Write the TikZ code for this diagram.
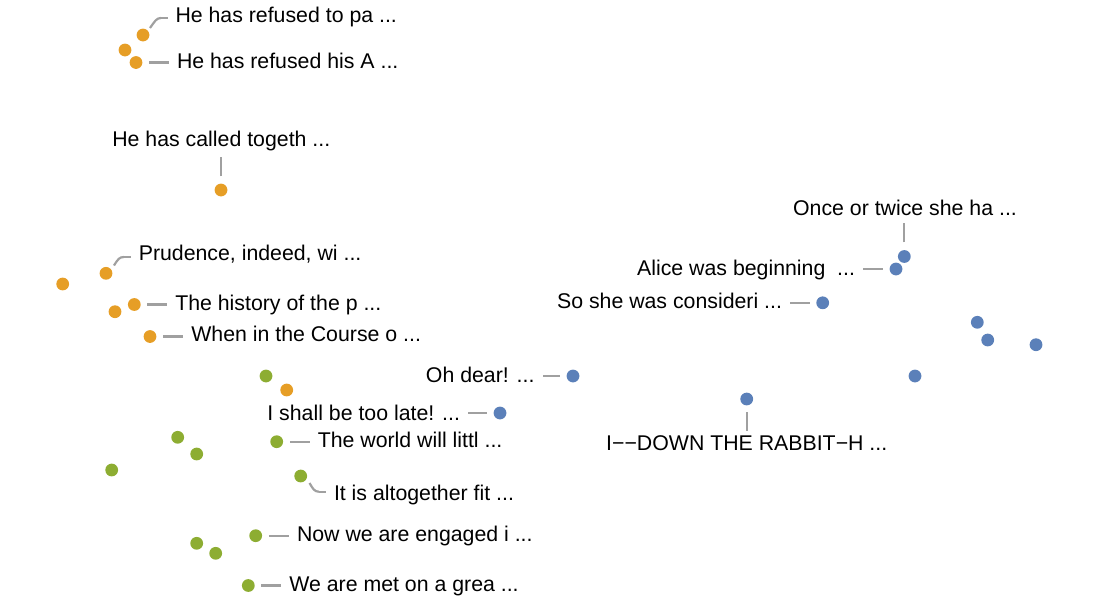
\documentclass[tikz,border=0pt]{standalone}
\usepackage{fontspec}
\setmainfont{Liberation Sans}
\definecolor{dorange}{HTML}{E69E26}
\definecolor{dgreen}{HTML}{8DAD32}
\definecolor{dblue}{HTML}{5B80B9}
\definecolor{conngray}{HTML}{A0A0A0}
\tikzset{
  dot/.style={circle, fill=#1, draw=none, inner sep=0pt, minimum size=12.8pt},
  lab/.style={inner sep=0pt, outer sep=0pt, font=\fontsize{21.3}{21.3}\selectfont, text=black},
  conn/.style={draw=conngray, line width=2.2pt},
  hconn/.style={conn, shorten <=6.5pt, shorten >=8pt},
}
\begin{document}
\begin{tikzpicture}[x=1pt, y=-1pt]
\useasboundingbox (0,0) rectangle (1100,600);
% orange
\node[dot=dorange] (o1) at (143,35) {};
\node[dot=dorange] (o2) at (125,50) {};
\node[dot=dorange] (o3) at (136,62.5) {};
\node[dot=dorange] (o4) at (221,190) {};
\node[dot=dorange] (o5) at (106,273.3) {};
\node[dot=dorange] (o6) at (62.7,284) {};
\node[dot=dorange] (o7) at (115,311.7) {};
\node[dot=dorange] (o8) at (134.3,304.5) {};
\node[dot=dorange] (o9) at (150,336.5) {};
\node[dot=dorange] (o10) at (286.7,390) {};
% green
\node[dot=dgreen] (g1) at (266,376) {};
\node[dot=dgreen] (g2) at (177.7,437.3) {};
\node[dot=dgreen] (g3) at (196.7,454) {};
\node[dot=dgreen] (g4) at (111.7,470) {};
\node[dot=dgreen] (g5) at (276.7,441.7) {};
\node[dot=dgreen] (g6) at (300.7,476) {};
\node[dot=dgreen] (g7) at (255.7,535.7) {};
\node[dot=dgreen] (g8) at (196.7,543.3) {};
\node[dot=dgreen] (g9) at (215.7,553.3) {};
\node[dot=dgreen] (g10) at (248.3,585.5) {};
% blue
\node[dot=dblue] (b1) at (904.3,256.5) {};
\node[dot=dblue] (b2) at (896,269) {};
\node[dot=dblue] (b3) at (822.7,302.8) {};
\node[dot=dblue] (b4) at (977.3,322.3) {};
\node[dot=dblue] (b5) at (987.7,340) {};
\node[dot=dblue] (b6) at (1036,344.7) {};
\node[dot=dblue] (b7) at (915,376) {};
\node[dot=dblue] (b8) at (573,376) {};
\node[dot=dblue] (b9) at (746.7,399) {};
\node[dot=dblue] (b10) at (500,413) {};
% labels
\node[lab, anchor=base west] (lo1) at (175.5,22) {He has refused to pa ...};
\node[lab, anchor=base west] (lo3) at (177,68.5) {He has refused his A ...};
\node[lab, anchor=base] (lo4) at (221.3,146.7) {He has called togeth ...};
\node[lab, anchor=base west] (lo5) at (138.8,260) {Prudence, indeed, wi ...};
\node[lab, anchor=base west] (lo8) at (175.3,310) {The history of the p ...};
\node[lab, anchor=base west] (lo9) at (191.3,341.7) {When in the Course o ...};
\node[lab, anchor=base west] (lg5) at (317.8,447.3) {The world will littl ...};
\node[lab, anchor=base west] (lg6) at (334,500.7) {It is altogether fit ...};
\node[lab, anchor=base west] (lg7) at (297,541.7) {Now we are engaged i ...};
\node[lab, anchor=base west] (lg10) at (289.4,591.7) {We are met on a grea ...};
\node[lab, anchor=base] (lb1) at (905,215) {Once or twice she ha ...};
\node[lab, anchor=base east] (lb2) at (855,275) {Alice was beginning\ \ ...};
\node[lab, anchor=base east] (lb3) at (782,308.3) {So she was consideri ...};
\node[lab, anchor=base east] (lb8) at (534.5,382) {Oh dear! ...};
\node[lab, anchor=base] (lb9) at (746.7,450) {I−−DOWN THE RABBIT−H ...};
\node[lab, anchor=base east] (lb10) at (460,420) {I shall be too late! ...};
% connectors
\coordinate (o1s) at (150,28);
\coordinate (o1m) at (161,18);
\draw[conn] (o1s) .. controls (155,21) and (156.5,18) .. (o1m);
\draw[conn, shorten >=8pt] (o1m) -- (o1m -| lo1.west);
\draw[hconn] (o3) -- (o3 -| lo3.west);
\draw[conn, shorten <=7pt, shorten >=10pt] (o4) -- (o4 |- lo4.base);
\coordinate (o5s) at (114,265.5);
\coordinate (o5m) at (124,257);
\draw[conn] (o5s) .. controls (118,259) and (119.5,257) .. (o5m);
\draw[conn, shorten >=8pt] (o5m) -- (o5m -| lo5.west);
\draw[hconn] (o8) -- (o8 -| lo8.west);
\draw[hconn] (o9) -- (o9 -| lo9.west);
\draw[hconn] (g5) -- (g5 -| lg5.west);
\coordinate (g6s) at (309.5,483);
\coordinate (g6m) at (319,491.7);
\draw[conn] (g6s) .. controls (313,489) and (314.5,491.7) .. (g6m);
\draw[conn, shorten >=8pt] (g6m) -- (g6m -| lg6.west);
\draw[hconn] (g7) -- (g7 -| lg7.west);
\draw[hconn] (g10) -- (g10 -| lg10.west);
\draw[conn, shorten <=7.5pt, shorten >=7.5pt] (b1) -- (b1 |- lb1.base);
\draw[hconn] (b2) -- (b2 -| lb2.east);
\draw[hconn] (b3) -- (b3 -| lb3.east);
\draw[hconn] (b8) -- (b8 -| lb8.east);
\draw[conn, shorten <=6.5pt, shorten >=4.5pt] (b9) -- (b9 |- lb9.north);
\draw[hconn] (b10) -- (b10 -| lb10.east);
\end{tikzpicture}
\end{document}
